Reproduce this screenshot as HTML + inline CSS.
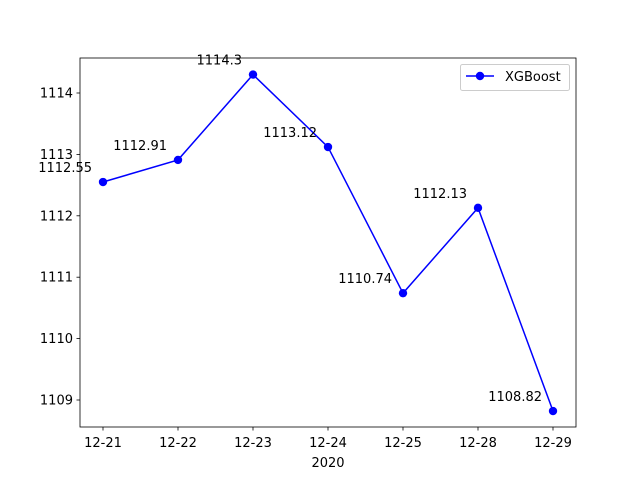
<!DOCTYPE html>
<html><head><meta charset="utf-8"><style>
body{margin:0;background:#fff;}
svg text{font-family:"DejaVu Sans","Liberation Sans",sans-serif;font-size:13px;fill:#000;}
</style></head><body>
<svg width="640" height="480" xmlns="http://www.w3.org/2000/svg">
<rect x="0" y="0" width="640" height="480" fill="#fff"/>
<g id="plot"></g>
</svg>
<script>
const categories=["12-21","12-22","12-23","12-24","12-25","12-28","12-29"];
const values=[1112.55,1112.91,1114.3,1113.12,1110.74,1112.13,1108.82];
const valueLabels=["1112.55","1112.91","1114.3","1113.12","1110.74","1112.13","1108.82"];
const yTicks=[1109,1110,1111,1112,1113,1114];
const L=80,R=576,T=58,B=427;
const xs=i=>103+i*75;
const ys=v=>400-(v-1109)*61.4;
const g=document.getElementById('plot');
const NS="http://www.w3.org/2000/svg";
function el(t,a){const e=document.createElementNS(NS,t);for(const k in a)e.setAttribute(k,a[k]);g.appendChild(e);return e;}
// ticks
yTicks.forEach(v=>{
 const y=ys(v);
 const t=el('line',{x1:L-3.5,x2:L,y1:y,y2:y,stroke:'#000','stroke-width':0.8});
 
 
 const tx=el('text',{x:L-7,y:y+4.5,'text-anchor':'end'});tx.textContent=v;
 
 
});
categories.forEach((c,i)=>{
 const x=xs(i);
 const t=el('line',{x1:x,x2:x,y1:B,y2:B+3.5,stroke:'#000','stroke-width':0.8});
 
 
 const tx=el('text',{x:x,y:B+20,'text-anchor':'middle'});tx.textContent=c;
 
 
});
const xt=el('text',{x:(L+R)/2,y:467,'text-anchor':'middle'});xt.textContent='2020';


// line
const pts=values.map((v,i)=>xs(i)+','+ys(v)).join(' ');
const pl=el('polyline',{points:pts,fill:'none',stroke:'#0000ff','stroke-width':1.5});


values.forEach((v,i)=>{
 const c=el('circle',{cx:xs(i),cy:ys(v),r:4.2,fill:'#0000ff'});
 
 
 const t=el('text',{x:xs(i)-11,y:ys(v)-10,'text-anchor':'end'});t.textContent=valueLabels[i];
 
 
});
const fr=el('rect',{x:L,y:T,width:R-L,height:B-T,fill:'none',stroke:'#000','stroke-width':0.8});


// legend
const lg=el('rect',{x:460.5,y:64.5,width:109,height:26,rx:2,fill:'#fff',stroke:'#ccc','stroke-width':1});


const ll=el('line',{x1:466,x2:494,y1:76,y2:76,stroke:'#0000ff','stroke-width':1.5});


const lc=el('circle',{cx:480,cy:76,r:4.2,fill:'#0000ff'});


const lt=el('text',{x:505,y:81});lt.textContent='XGBoost';


</script>
</body></html>
